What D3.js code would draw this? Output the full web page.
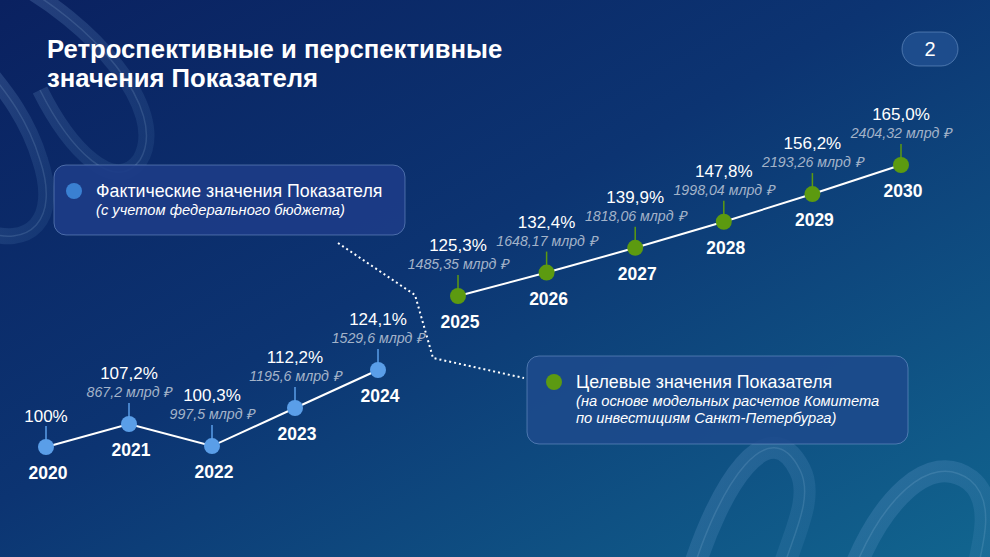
<!DOCTYPE html>
<html>
<head>
<meta charset="utf-8">
<script src="https://cdn.jsdelivr.net/npm/d3@7"></script>
<style>
  html, body { margin: 0; padding: 0; background: #0b2563; }
  svg { display: block; }
</style>
</head>
<body>
<div id="wrapper"></div>
<script>
// data
const retroYears = [2020, 2021, 2022, 2023, 2024]
const retroValues = [100, 107.2, 100.3, 112.2, 124.1]
const retroPctLabels = ["100%", "107,2%", "100,3%", "112,2%", "124,1%"]
const retroMoney = [null, 867.2, 997.5, 1195.6, 1529.6]

const targetYears = [2025, 2026, 2027, 2028, 2029, 2030]
const targetValues = [125.3, 132.4, 139.9, 147.8, 156.2, 165.0]
const targetPctLabels = ["125,3%", "132,4%", "139,9%", "147,8%", "156,2%", "165,0%"]
const targetMoney = [1485.35, 1648.17, 1818.06, 1998.04, 2193.26, 2404.32]

const titleLines = ["Ретроспективные и перспективные", "значения Показателя"]
const legendRetro = ["Фактические значения Показателя", "(с учетом федерального бюджета)"]
const legendTarget = ["Целевые значения Показателя",
  "(на основе модельных расчетов Комитета",
  "по инвестициям Санкт-Петербурга)"]

const width = 990
const height = 557
const font = "'Liberation Sans', Arial, sans-serif"

const svg = d3.select("#wrapper")
  .append("svg")
    .attr("width", width)
    .attr("height", height)

const defs = svg.append("defs")
const bg = defs.append("linearGradient")
    .attr("id", "bg")
    .attr("x1", 0).attr("y1", 0).attr("x2", 1).attr("y2", 1)
bg.append("stop").attr("offset", "0%").attr("stop-color", "#0a2160")
bg.append("stop").attr("offset", "45%").attr("stop-color", "#0c3472")
bg.append("stop").attr("offset", "100%").attr("stop-color", "#11658f")

const glass = defs.append("linearGradient")
    .attr("id", "glass")
    .attr("x1", 0).attr("y1", 0).attr("x2", 1).attr("y2", 1)
glass.append("stop").attr("offset", "0%").attr("stop-color", "#8fb6e8").attr("stop-opacity", 0.22)
glass.append("stop").attr("offset", "100%").attr("stop-color", "#6fa6d6").attr("stop-opacity", 0.1)

svg.append("rect")
    .attr("width", width)
    .attr("height", height)
    .attr("fill", "url(#bg)")

// decorative glass loops
const deco = svg.append("g").attr("fill", "none")
const loops = [
  "M 10 -20 C 90 20, 170 110, 140 160 C 115 195, 70 150, 40 90",
  "M -20 230 C 30 250, 60 220, 40 160 C 25 110, -5 80, -20 60",
  "M 690 580 C 720 480, 770 410, 800 470 C 815 500, 790 540, 780 580",
  "M 850 580 C 880 500, 930 450, 970 480 C 995 500, 985 540, 975 580",
]
loops.forEach((d, i) => {
  deco.append("path")
      .attr("d", d)
      .attr("stroke", "url(#glass)")
      .attr("stroke-width", i < 2 ? 16 : 22)
  deco.append("path")
      .attr("d", d)
      .attr("stroke", "#b8d4f4")
      .attr("stroke-opacity", 0.15)
      .attr("stroke-width", 1.5)
})

// title
svg.append("g")
  .selectAll("text")
  .data(titleLines)
  .join("text")
    .attr("x", 47)
    .attr("y", (d, i) => 58 + i * 29)
    .attr("fill", "#ffffff")
    .attr("font-family", font)
    .attr("font-weight", "bold")
    .attr("font-size", 25.7)
    .text(d => d)

// page badge
svg.append("rect")
    .attr("x", 902).attr("y", 32)
    .attr("width", 56).attr("height", 34)
    .attr("rx", 17)
    .attr("fill", "#1d4c8c")
    .attr("stroke", "#7fa6d6")
    .attr("stroke-opacity", 0.5)
svg.append("text")
    .attr("x", 930).attr("y", 56)
    .attr("text-anchor", "middle")
    .attr("fill", "#ffffff")
    .attr("font-family", font)
    .attr("font-size", 20)
    .text("2")

// dotted connector between the two legends
svg.append("path")
    .attr("d", d3.line()([[338, 243], [415, 295], [433, 358], [524, 378]]))
    .attr("fill", "none")
    .attr("stroke", "#ffffff")
    .attr("stroke-width", 2)
    .attr("stroke-dasharray", "2 3")

// legend boxes
function drawLegend(x, y, w, h, fill, color, pad, lines) {
  const g = svg.append("g")
  g.append("rect")
      .attr("x", x).attr("y", y)
      .attr("width", w).attr("height", h)
      .attr("rx", 12)
      .attr("fill", fill)
      .attr("fill-opacity", 0.9)
      .attr("stroke", "#8fb0e0")
      .attr("stroke-opacity", 0.45)
  g.append("circle")
      .attr("cx", x + pad).attr("cy", y + 26)
      .attr("r", 8)
      .attr("fill", color)
  g.selectAll("text")
    .data(lines)
    .join("text")
      .attr("x", x + pad + 22)
      .attr("y", (d, i) => y + 32 + i * 17.5)
      .attr("fill", "#ffffff")
      .attr("font-family", font)
      .attr("font-size", (d, i) => i === 0 ? 17.8 : 14.7)
      .attr("font-style", (d, i) => i === 0 ? "normal" : "italic")
      .text(d => d)
}
drawLegend(54, 165, 351, 70, "#1d3c87", "#3a80d2", 20, legendRetro)
drawLegend(527, 356, 381, 88, "#1d4a8c", "#5c9a12", 27, legendTarget)

// series
const money = v => String(v).replace(".", ",") + " млрд ₽"

function drawSeries(years, values, pctLabels, moneyVals, xScale, yScale, color) {
  const data = years.map((year, i) => ({
    year, value: values[i], pct: pctLabels[i], money: moneyVals[i],
  }))
  const xAccessor = d => xScale(d.year)
  const yAccessor = d => yScale(d.value)
  const g = svg.append("g")

  g.append("path")
      .attr("d", d3.line().x(xAccessor).y(yAccessor)(data))
      .attr("fill", "none")
      .attr("stroke", "#ffffff")
      .attr("stroke-width", 2)

  g.selectAll(".stem")
    .data(data)
    .join("line")
      .attr("class", "stem")
      .attr("x1", xAccessor).attr("x2", xAccessor)
      .attr("y1", yAccessor)
      .attr("y2", d => yAccessor(d) - 21)
      .attr("stroke", color)
      .attr("stroke-width", 1.5)

  g.selectAll("circle")
    .data(data)
    .join("circle")
      .attr("cx", xAccessor)
      .attr("cy", yAccessor)
      .attr("r", 8)
      .attr("fill", color)

  g.selectAll(".pct")
    .data(data)
    .join("text")
      .attr("class", "pct")
      .attr("x", xAccessor)
      .attr("y", d => yAccessor(d) - (d.money == null ? 25 : 45))
      .attr("text-anchor", "middle")
      .attr("fill", "#ffffff")
      .attr("font-family", font)
      .attr("font-size", 17)
      .text(d => d.pct)

  g.selectAll(".money")
    .data(data.filter(d => d.money != null))
    .join("text")
      .attr("class", "money")
      .attr("x", xAccessor)
      .attr("y", d => yAccessor(d) - 27)
      .attr("text-anchor", "middle")
      .attr("fill", "#a3b3c9")
      .attr("font-family", font)
      .attr("font-style", "italic")
      .attr("font-size", 14.2)
      .text(d => money(d.money))

  g.selectAll(".year")
    .data(data)
    .join("text")
      .attr("class", "year")
      .attr("x", d => xAccessor(d) + 2)
      .attr("y", d => yAccessor(d) + 32)
      .attr("text-anchor", "middle")
      .attr("fill", "#ffffff")
      .attr("font-family", font)
      .attr("font-weight", "bold")
      .attr("font-size", 17.5)
      .text(d => d.year)
}

const xRetro = d3.scaleLinear().domain([2020, 2024]).range([46, 378])
const yRetro = d3.scaleLinear().domain([100, 124.1]).range([447, 370])
const xTarget = d3.scaleLinear().domain([2025, 2030]).range([458, 901])
const yTarget = d3.scaleLinear().domain([125.3, 165]).range([296, 165])

drawSeries(retroYears, retroValues, retroPctLabels, retroMoney, xRetro, yRetro, "#5a9ee8")
drawSeries(targetYears, targetValues, targetPctLabels, targetMoney, xTarget, yTarget, "#5c9a10")
</script>
</body>
</html>
